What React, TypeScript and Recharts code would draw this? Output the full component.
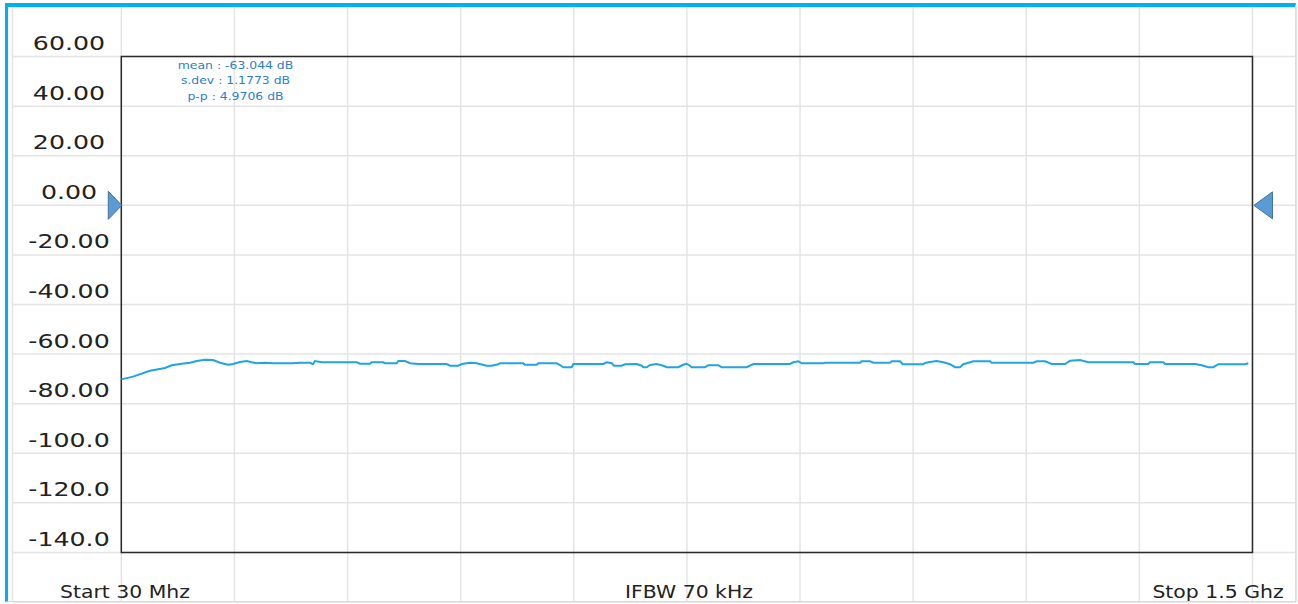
import React from 'react';
import {
  LineChart,
  Line,
  XAxis,
  YAxis,
  CartesianGrid,
  ReferenceArea,
  ReferenceDot
} from 'recharts';

// sweep readout, MHz / dB
const freqMHz = [
  30, 45.2, 67.3, 86.8, 95.5, 108.5, 119.3, 128, 138.8, 149.2,
  158.3, 168.7, 175.2, 184.3, 193, 199.5, 206, 216.7, 227.5, 253.1,
  262.2, 275.2, 279.1, 281.7, 290.4, 335.9, 340.2, 353.2, 355.4, 370.1,
  372.7, 387.9, 390, 398.7, 405.2, 416, 452.9, 457.1, 467.9, 472.4,
  483.1, 491.8, 504.8, 511.3, 519.9, 522.1, 552.4, 554.6, 569.8, 571.9,
  595.8, 600.1, 604.4, 615.3, 617.4, 656.4, 660.8, 667.3, 670.3, 680.3,
  684.6, 699.8, 706.3, 708.4, 712.8, 717.1, 725.8, 734.3, 738.8, 753.8,
  760.3, 764.8, 769, 771.2, 788.5, 792.8, 805.8, 810.2, 842.7, 851.3,
  899, 903.3, 909.8, 914.2, 942.3, 944.5, 990, 992.2, 1003, 1007.3,
  1029, 1031.2, 1042, 1045.5, 1072.2, 1074.4, 1080.9, 1089.6, 1098.2, 1106.9,
  1113.4, 1119.9, 1124.2, 1130.7, 1137.2, 1158.9, 1161.1, 1215.2, 1219.6, 1230.4,
  1239.1, 1256.4, 1262.9, 1275.9, 1286.6, 1345.1, 1347.3, 1364.6, 1366.8, 1384.1,
  1386.3, 1425.3, 1434, 1442.6, 1449.1, 1455.6, 1490.3, 1494.6
];

const levelDb = [
  -70.2, -69.1, -66.7, -65.6, -64.5, -63.9, -63.5, -62.8, -62.3, -62.4,
  -63.5, -64.3, -64.0, -63.2, -62.8, -63.3, -63.7, -63.5, -63.7, -63.7,
  -63.5, -63.5, -64.1, -62.8, -63.3, -63.3, -63.9, -63.9, -63.3, -63.3,
  -63.7, -63.7, -62.8, -62.8, -63.7, -64.0, -64.0, -64.7, -64.7, -64.0,
  -63.5, -63.7, -64.7, -64.7, -64.1, -63.7, -63.7, -64.3, -64.3, -63.7,
  -63.7, -64.4, -65.3, -65.3, -64.0, -64.0, -63.3, -63.7, -64.7, -64.7,
  -64.1, -64.0, -64.7, -65.3, -65.3, -64.4, -64.0, -64.7, -65.3, -65.3,
  -64.3, -63.9, -64.7, -65.3, -65.3, -64.5, -64.5, -65.3, -65.3, -64.0,
  -64.0, -63.3, -62.9, -63.7, -63.7, -63.5, -63.5, -62.9, -62.9, -63.5,
  -63.5, -62.9, -62.9, -64.1, -64.1, -63.6, -63.2, -62.8, -63.3, -64.1,
  -65.3, -65.3, -64.1, -63.5, -62.9, -62.9, -63.5, -63.5, -62.9, -62.9,
  -64.0, -64.0, -62.7, -62.4, -63.3, -63.3, -64.0, -64.0, -63.3, -63.3,
  -64.0, -64.0, -64.5, -65.3, -65.3, -64.1, -64.1, -63.7
];

// grid divisions (first one is the outer edge of the screen grid)
const freqGrid = [-111.4, 30, 177, 324, 471, 618, 765, 912, 1059, 1206, 1353, 1500];
const levelGrid = [80, 60, 40, 20, 0, -20, -40, -60, -80, -100, -120, -140, -160];
const levelTickValues = [60, 40, 20, 0, -20, -40, -60, -80, -100, -120, -140];
const levelTickLabels = ['60.00', '40.00', '20.00', '0.00', '-20.00', '-40.00', '-60.00', '-80.00', '-100.0', '-120.0', '-140.0'];

const statLines = ['mean : -63.044 dB', 's.dev : 1.1773 dB', 'p-p : 4.9706 dB'];
const footerLabels = ['Start 30 Mhz', 'IFBW 70 kHz', 'Stop 1.5 Ghz'];

const sweepStart = 30;
const sweepStop = 1500;
const refLevel = 0;

const data = freqMHz.map((f, i) => ({ f, db: levelDb[i] }));

const W = 1298;
const H = 604;

const renderYTick = (props: any) => {
  const { y, payload, index } = props;
  const idx = levelTickValues.indexOf(Number(payload.value));
  if (idx < 0) return <g key={`yt-${index}`} />;
  return (
    <text
      key={`yt-${index}`}
      transform={`translate(69 ${y - 6.5}) scale(1.33 1)`}
      textAnchor="middle"
      fontFamily="DejaVu Sans"
      fontSize={19}
      fill="#222"
    >
      {levelTickLabels[idx]}
    </text>
  );
};

const renderNoTick = (props: any) => <g key={`xt-${props.index}`} />;

const LeftMarker = ({ cx, cy }: any) => (
  <path
    d={`M${cx + 0.5},${cy} L${cx - 13},${cy - 14} L${cx - 13},${cy + 14} Z`}
    fill="#5b9bd5"
    stroke="#41719c"
    strokeWidth={1}
  />
);

const RightMarker = ({ cx, cy }: any) => (
  <path
    d={`M${cx + 1.5},${cy} L${cx + 20},${cy - 13.5} L${cx + 20},${cy + 13.5} Z`}
    fill="#5b9bd5"
    stroke="#41719c"
    strokeWidth={1}
  />
);

const footerX = [125, 689, 1218];

export default function App() {
  return (
    <div style={{ position: 'absolute', left: 0, top: 0, width: W, height: H, background: '#fff' }}>
      <LineChart
        width={W}
        height={H}
        data={data}
        margin={{ top: 7, right: 1.5, bottom: 1, left: 11.5 }}
      >
        <CartesianGrid stroke="#e4e4e4" strokeWidth={1.5} />
        <XAxis
          dataKey="f"
          type="number"
          domain={[-111.4, 1557.2]}
          ticks={freqGrid}
          interval={0}
          allowDataOverflow
          height={1}
          axisLine={false}
          tickLine={false}
          tick={renderNoTick}
        />
        <YAxis
          type="number"
          domain={[-160, 80]}
          ticks={levelGrid}
          interval={0}
          allowDataOverflow
          width={1}
          axisLine={false}
          tickLine={false}
          tick={renderYTick}
        />
        <ReferenceArea
          x1={sweepStart}
          x2={sweepStop}
          y1={-140}
          y2={60}
          fill="none"
          fillOpacity={0}
          stroke="#2a2a2a"
          strokeWidth={1.5}
        />
        <Line
          type="linear"
          dataKey="db"
          stroke="#1fa5e6"
          strokeWidth={2}
          dot={false}
          isAnimationActive={false}
        />
        <ReferenceDot x={sweepStart} y={refLevel} r={0} shape={<LeftMarker />} />
        <ReferenceDot x={sweepStop} y={refLevel} r={0} shape={<RightMarker />} />
      </LineChart>

      <svg width={W} height={H} style={{ position: 'absolute', left: 0, top: 0, pointerEvents: 'none' }}>
        {statLines.map((s, i) => (
          <text
            key={s}
            transform={`translate(235.5 ${[69, 84, 100][i]}) scale(1.13 1)`}
            textAnchor="middle"
            fontFamily="DejaVu Sans"
            fontSize={11}
            fill="#2b7fd0"
          >
            {s}
          </text>
        ))}
        {footerLabels.map((s, i) => (
          <text
            key={s}
            transform={`translate(${footerX[i]} 597.5) scale(1.2 1)`}
            textAnchor="middle"
            fontFamily="DejaVu Sans"
            fontSize={17}
            fill="#222"
          >
            {s}
          </text>
        ))}
      </svg>

      {/* window frame */}
      <div
        style={{
          position: 'absolute',
          left: 5,
          top: 3,
          width: 1291,
          height: 599,
          borderLeft: '3px solid #00b0f0',
          borderTop: '4px solid #00b0f0',
          borderRight: '1px solid #bfe6f7',
          borderBottom: '1px solid #c9dbe4',
          boxSizing: 'border-box',
          pointerEvents: 'none'
        }}
      />
    </div>
  );
}
